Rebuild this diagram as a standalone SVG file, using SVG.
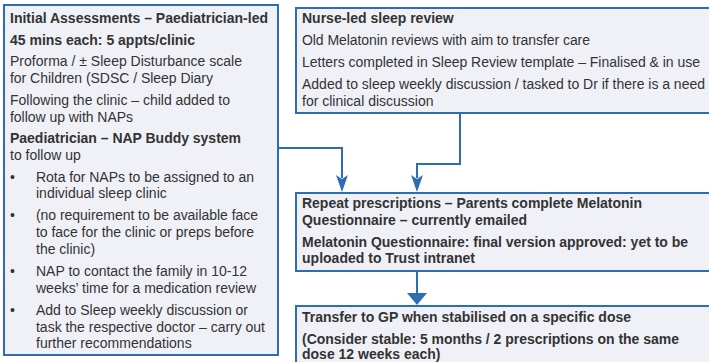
<svg xmlns="http://www.w3.org/2000/svg" width="709" height="362" viewBox="0 0 709 362">
<style>
.box{fill:#EFF1F7;stroke:#2E6DB4;stroke-width:2}
text{font-family:"Liberation Sans",Arial,sans-serif;font-size:14px;fill:#333333}
.b{font-weight:bold}
.con{fill:none;stroke:#2E6DB4;stroke-width:2}
.ah{fill:#2E6DB4}
</style>
<rect width="709" height="362" fill="#FFFFFF"/>
<g id="connectors">
<polyline class="con" points="278,148 342,148 342,178"/>
<path class="ah" d="M336,175 L342,179 L348,175 L342,192 Z"/>
<polyline class="con" points="460,113 460,164 417,164 417,178"/>
<path class="ah" d="M411,175 L417,179 L423,175 L417,192 Z"/>
<line class="con" x1="417" y1="271" x2="417" y2="295"/>
<path class="ah" d="M407,293 L427,293 L417,305 Z"/>
</g>
<g id="initial">
<rect class="box" x="4" y="5" width="274" height="350"/>
<text x="10" y="23" class="b" textLength="258">Initial Assessments – Paediatrician-led</text>
<text x="10" y="45" class="b" textLength="185">45 mins each: 5 appts/clinic</text>
<text x="10" y="66" textLength="232">Proforma / ± Sleep Disturbance scale</text>
<text x="10" y="83" textLength="203">for Children (SDSC / Sleep Diary</text>
<text x="10" y="105" textLength="220">Following the clinic – child added to</text>
<text x="10" y="122" textLength="123">follow up with NAPs</text>
<text x="10" y="143" class="b" textLength="231">Paediatrician – NAP Buddy system</text>
<text x="10" y="160">to follow up</text>
<text x="10" y="182">•</text>
<text x="36" y="182" textLength="218">Rota for NAPs to be assigned to an</text>
<text x="36" y="198">individual sleep clinic</text>
<text x="10" y="220">•</text>
<text x="36" y="220" textLength="222">(no requirement to be available face</text>
<text x="36" y="237" textLength="218">to face for the clinic or preps before</text>
<text x="36" y="254">the clinic)</text>
<text x="10" y="276">•</text>
<text x="36" y="276" textLength="211">NAP to contact the family in 10-12</text>
<text x="36" y="293" textLength="220">weeks’ time for a medication review</text>
<text x="10" y="315">•</text>
<text x="36" y="315" textLength="212">Add to Sleep weekly discussion or</text>
<text x="36" y="332" textLength="229">task the respective doctor – carry out</text>
<text x="36" y="348">further recommendations</text>
</g>
<g id="nurse">
<rect class="box" x="296" y="8" width="420" height="105"/>
<text x="302" y="23" class="b">Nurse-led sleep review</text>
<text x="302" y="45" textLength="288">Old Melatonin reviews with aim to transfer care</text>
<text x="302" y="67" textLength="398">Letters completed in Sleep Review template – Finalised &amp; in use</text>
<text x="302" y="89" textLength="403">Added to sleep weekly discussion / tasked to Dr if there is a need</text>
<text x="302" y="106">for clinical discussion</text>
</g>
<g id="repeat">
<rect class="box" x="296" y="193" width="420" height="78"/>
<text x="302" y="208" class="b" textLength="340">Repeat prescriptions – Parents complete Melatonin</text>
<text x="302" y="225" class="b" textLength="225">Questionnaire – currently emailed</text>
<text x="302" y="247" class="b" textLength="386">Melatonin Questionnaire: final version approved: yet to be</text>
<text x="302" y="263" class="b" textLength="173">uploaded to Trust intranet</text>
</g>
<g id="transfer">
<rect class="box" x="296" y="306" width="420" height="70"/>
<text x="302" y="322" class="b" textLength="329">Transfer to GP when stabilised on a specific dose</text>
<text x="302" y="344" class="b" textLength="377">(Consider stable: 5 months / 2 prescriptions on the same</text>
<text x="302" y="359" class="b">dose 12 weeks each)</text>
</g>
</svg>
